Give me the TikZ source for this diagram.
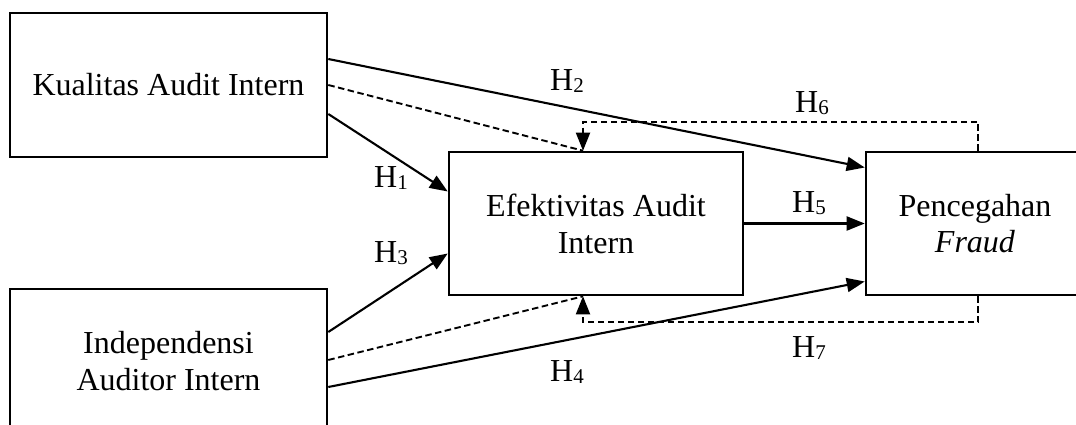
\documentclass[tikz,border=0pt]{standalone}
\usepackage{fontspec}
\setmainfont{Liberation Serif}
\usetikzlibrary{arrows.meta,calc}

% hypothesis label: H with a large, slightly lowered index
\newcommand{\hyp}[1]{H\raisebox{-2pt}{\fontsize{21}{21}\selectfont #1}}

\begin{document}
\begin{tikzpicture}[x=1pt,y=-1pt,
  txt/.style={font=\fontsize{32}{36.8}\selectfont},
  box/.style={draw, line width=2.6pt, inner sep=0pt, align=center, txt},
  tip/.style={-{Triangle[length=18pt,width=14pt]}},
  link/.style={line width=2.1pt, tip},
  modline/.style={line width=1.9pt, dash pattern=on 6.5pt off 3.5pt},
  hlabel/.style={anchor=base west, inner sep=0pt, txt}]
\useasboundingbox (0,0) rectangle (1076,425);
\clip (0,0) rectangle (1076,425);

% variables
\node[box, minimum width=317pt, minimum height=144pt] (A) at (168.5,85) {Kualitas Audit Intern};
\node[box, minimum width=294pt, minimum height=143pt] (B) at (596,223.5) {Efektivitas Audit\\Intern};
\node[box, minimum width=218pt, minimum height=143pt] (C) at (975,223.5) {Pencegahan\\\textit{Fraud}};
\node[box, minimum width=317pt, minimum height=144pt] (D) at (168.5,361) {Independensi\\Auditor Intern};

% direct effects
\draw[link] ([yshift=-29pt]A.east) -- ([yshift=32pt]B.west);
\draw[link] ([yshift=26pt]A.east) -- ([yshift=56pt]C.west);
\draw[link] ([yshift=29pt]D.east) -- ([yshift=-30pt]B.west);
\draw[link] ([yshift=-26pt]D.east) -- ([yshift=-58pt]C.west);
\draw[link] (B.east) -- (C.west);

% mediated effects
\draw[modline] (A.east) -- ([xshift=-13pt]B.north);
\draw[modline, tip] ([xshift=3pt]C.north) -- ++(0,-29) -| ([xshift=-13pt]B.north);
\draw[modline] ([yshift=1pt]D.east) -- ([xshift=-13pt]B.south);
\draw[modline, tip] ([xshift=3pt]C.south) -- ++(0,26) -| ([xshift=-13pt]B.south);

% hypothesis labels
\node[hlabel] (h1) at (374,187) {\hyp{1}};
\node[hlabel] (h2) at (550,91) {\hyp{2}};
\node[hlabel] (h3) at (374,262) {\hyp{3}};
\node[hlabel] (h4) at (550,381) {\hyp{4}};
\node[hlabel] (h5) at (792,212) {\hyp{5}};
\node[hlabel] (h6) at (795,113) {\hyp{6}};
\node[hlabel] (h7) at (792,357) {\hyp{7}};
\end{tikzpicture}
\end{document}
